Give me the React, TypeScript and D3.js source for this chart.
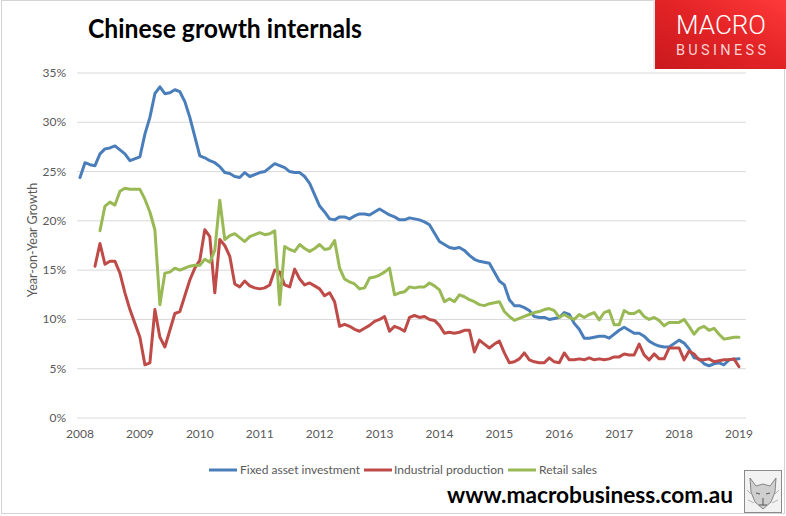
import React from 'react';
import * as d3 from 'd3';

const years = ['2008', '2009', '2010', '2011', '2012', '2013', '2014', '2015', '2016', '2017', '2018', '2019'];
const yTicks = [0, 5, 10, 15, 20, 25, 30, 35];

// Fixed asset investment, monthly from the first month on the axis (null = no January print)
const fixedAsset: (number | null)[] = [
  24.4, 25.9, 25.7, 25.6, 26.8, 27.3, 27.4, 27.6, 27.2, 26.8, 26.1, null,
  26.5, 28.8, 30.5, 32.9, 33.6, 32.9, 33.0, 33.3, 33.1, 32.1, 30.5, null,
  26.6, 26.4, 26.1, 25.9, 25.5, 24.9, 24.8, 24.5, 24.4, 24.9, 24.5, null,
  24.9, 25.0, 25.4, 25.8, 25.6, 25.4, 25.0, 24.9, 24.9, 24.5, 23.8, null,
  21.5, 20.9, 20.2, 20.1, 20.4, 20.4, 20.2, 20.5, 20.7, 20.7, 20.6, null,
  21.2, 20.9, 20.6, 20.4, 20.1, 20.1, 20.3, 20.2, 20.1, 19.9, 19.6, null,
  17.9, 17.6, 17.3, 17.2, 17.3, 17.0, 16.5, 16.1, 15.9, 15.8, 15.7, null,
  13.9, 13.5, 12.0, 11.4, 11.4, 11.2, 10.9, 10.3, 10.2, 10.2, 10.0, null,
  10.2, 10.7, 10.5, 9.6, 9.0, 8.1, 8.1, 8.2, 8.3, 8.3, 8.1, null,
  8.9, 9.2, 8.9, 8.6, 8.6, 8.3, 7.8, 7.5, 7.3, 7.2, 7.2, null,
  7.9, 7.6, 7.0, 6.1, 6.0, 5.5, 5.3, 5.5, 5.6, 5.4, 5.9, null,
  6.0,
];

const industrialStart = 3;
const industrial: number[] = [
  15.4, 17.7, 15.6, 15.9, 15.9, 14.7, 12.7, 11.0, 9.6,
  8.2, 5.4, 5.6, 11.0, 8.2, 7.2, 8.9, 10.6, 10.8, 12.4, 14.0, 15.2,
  16.0, 19.1, 18.4, 12.7, 18.1, 17.5, 16.4, 13.6, 13.3, 13.9, 13.4, 13.2,
  13.1, 13.2, 13.5, 15.0, 14.8, 13.5, 13.3, 15.1, 14.1, 13.5, 13.7, 13.4,
  13.1, 12.4, 12.7, 11.8, 9.3, 9.5, 9.3, 9.0, 8.8, 9.1, 9.4, 9.8,
  10.0, 10.3, 8.8, 9.3, 9.1, 8.8, 10.2, 10.4, 10.2, 10.3, 10.0, 9.9,
  9.4, 8.6, 8.7, 8.6, 8.7, 8.9, 8.9, 6.7, 7.9, 7.5, 7.1, 7.5,
  7.8, 6.6, 5.6, 5.7, 6.0, 6.6, 5.9, 5.7, 5.6, 5.6, 6.1, 5.7,
  5.6, 6.6, 5.9, 5.9, 6.0, 5.9, 6.1, 5.9, 6.0, 5.9, 6.0, 6.2,
  6.2, 6.5, 6.4, 6.4, 7.5, 6.4, 5.9, 6.5, 6.0, 6.0, 7.1, 7.1,
  7.1, 5.9, 6.8, 6.5, 5.9, 5.9, 6.0, 5.7, 5.8, 5.9, 5.9, 6.0,
  5.2,
];

const retailStart = 4;
const retail: number[] = [
  19.0, 21.5, 21.9, 21.6, 23.0, 23.3, 23.2, 23.2,
  23.2, 22.2, 20.9, 19.1, 11.5, 14.7, 14.8, 15.2, 15.0, 15.2, 15.4, 15.5,
  15.5, 16.1, 15.8, 17.0, 22.1, 18.1, 18.5, 18.7, 18.3, 17.9, 18.4, 18.6,
  18.8, 18.6, 18.7, 19.0, 11.5, 17.4, 17.1, 16.9, 17.6, 17.2, 16.9, 17.2,
  17.6, 17.1, 17.2, 18.0, 15.2, 14.1, 13.8, 13.6, 13.1, 13.2, 14.2, 14.3,
  14.5, 14.8, 15.2, 12.5, 12.7, 12.8, 13.3, 13.2, 13.3, 13.3, 13.7, 13.4,
  13.0, 11.8, 12.1, 11.8, 12.5, 12.3, 12.0, 11.8, 11.5, 11.4, 11.6, 11.7,
  11.8, 10.8, 10.3, 9.9, 10.1, 10.3, 10.5, 10.7, 10.8, 11.0, 11.1, 10.9,
  10.2, 10.5, 10.2, 10.0, 10.5, 10.2, 10.5, 10.7, 9.95, 10.7, 10.9, 9.45,
  9.45, 10.9, 10.6, 10.6, 10.9, 10.3, 10.0, 10.2, 9.9, 9.35, 9.7, 9.7,
  9.7, 10.0, 9.3, 8.5, 9.1, 9.3, 8.9, 9.1, 8.5, 8.0, 8.1, 8.2,
  8.2,
];

const seriesNames = ['Fixed asset investment', 'Industrial production', 'Retail sales'];
const seriesColors = ['#4A7EBB', '#BE4B48', '#98B954'];

const FONT = 'Lato, "Open Sans", sans-serif';

export default function App() {
  const W = 786;
  const H = 516;
  const x = d3.scaleLinear().domain([0, 132]).range([80, 739]);
  const y = d3.scaleLinear().domain([0, 35]).range([418, 73]);
  const line = d3
    .line<[number, number]>()
    .x((d) => x(d[0]))
    .y((d) => y(d[1]));

  const toPts = (arr: (number | null)[], start: number): [number, number][] =>
    arr
      .map((v, i) => [start + i, v] as [number, number | null])
      .filter((d) => d[1] != null) as [number, number][];

  const series = [toPts(fixedAsset, 0), toPts(industrial, industrialStart), toPts(retail, retailStart)];

  const legendItems = [
    { sx: 209, tx: 240 },
    { sx: 364, tx: 394 },
    { sx: 508, tx: 539 },
  ];

  return (
    <div style={{ position: 'fixed', left: 0, top: 0 }}>
      <svg width={W} height={H} viewBox={`0 0 ${W} ${H}`} style={{ display: 'block', background: '#fff' }}>
        <defs>
          <linearGradient id="logoGrad" x1="0" y1="1" x2="1" y2="0">
            <stop offset="0" stopColor="#c9191d" />
            <stop offset="0.55" stopColor="#e42427" />
            <stop offset="1" stopColor="#ff3a3a" />
          </linearGradient>
        </defs>
        <rect x={1.5} y={0.5} width={783} height={513} fill="#fff" stroke="#d4d4d4" strokeWidth={1} />

        {/* title */}
        <text x={88} y={38} fontFamily={FONT} fontWeight={700} fontSize={26} fill="#000" textLength={274} lengthAdjust="spacingAndGlyphs">
          Chinese growth internals
        </text>

        {/* logo */}
        <rect x={653} y={0} width={4} height={69} fill="#e8e8e8" />
        <rect x={655} y={0} width={131} height={69} fill="url(#logoGrad)" />
        <text x={676} y={34} fontFamily="Roboto, sans-serif" fontWeight={300} fontSize={26} fill="#fff" textLength={90} lengthAdjust="spacingAndGlyphs">
          MACRO
        </text>
        <text x={676} y={55} fontFamily="Roboto, sans-serif" fontWeight={400} fontSize={14.5} fill="#f6d0d0" textLength={90} lengthAdjust="spacing">
          BUSINESS
        </text>

        {/* gridlines and y ticks */}
        {yTicks.map((t) => (
          <g key={t}>
            <line x1={77} x2={746} y1={y(t)} y2={y(t)} stroke="#d9d9d9" strokeWidth={1} />
            <text x={66} y={y(t) + 4} textAnchor="end" fontFamily={FONT} fontSize={12} fill="#595959">
              {t}%
            </text>
          </g>
        ))}

        {/* x tick labels */}
        {years.map((yr, i) => (
          <text key={yr} x={x(i * 12)} y={438} textAnchor="middle" fontFamily={FONT} fontSize={12} fill="#595959">
            {yr}
          </text>
        ))}

        {/* y axis title */}
        <text
          transform={`translate(37, 240) rotate(-90)`}
          textAnchor="middle"
          fontFamily={FONT}
          fontSize={12.5}
          fill="#595959"
        >
          Year-on-Year Growth
        </text>

        {/* series */}
        {series.map((pts, i) => (
          <path
            key={i}
            d={line(pts) || ''}
            fill="none"
            stroke={seriesColors[i]}
            strokeWidth={3}
            strokeLinejoin="round"
            strokeLinecap="round"
          />
        ))}

        {/* legend */}
        {legendItems.map((it, i) => (
          <g key={i}>
            <line x1={it.sx} x2={it.sx + 28} y1={470} y2={470} stroke={seriesColors[i]} strokeWidth={3} />
            <text x={it.tx} y={474} fontFamily={FONT} fontSize={12} fill="#595959">
              {seriesNames[i]}
            </text>
          </g>
        ))}

        {/* footer */}
        <text x={447} y={503} fontFamily={FONT} fontWeight={700} fontSize={22} fill="#000" textLength={286} lengthAdjust="spacingAndGlyphs">
          www.macrobusiness.com.au
        </text>

        {/* wolf badge */}
        <g>
          <rect x={744.5} y={470.5} width={37} height={42} fill="#f2f2f2" stroke="#8a8a8a" strokeWidth={1} />
          <path
            d="M750 478 L756 486 L763 484 L770 486 L776 478 L775 492 L771 502 L763 509 L755 502 L751 492 Z"
            fill="#cfcfcf"
            stroke="#6e6e6e"
            strokeWidth={0.8}
          />
          <path d="M756 493 L760 494 M766 494 L770 493 M763 498 L763 505 M759 505 L767 505" stroke="#555" strokeWidth={1} fill="none" />
          <path d="M747 490 L751 494 M779 490 L775 494 M748 500 L754 503 M778 500 L772 503" stroke="#999" strokeWidth={0.7} fill="none" />
        </g>
      </svg>
    </div>
  );
}
